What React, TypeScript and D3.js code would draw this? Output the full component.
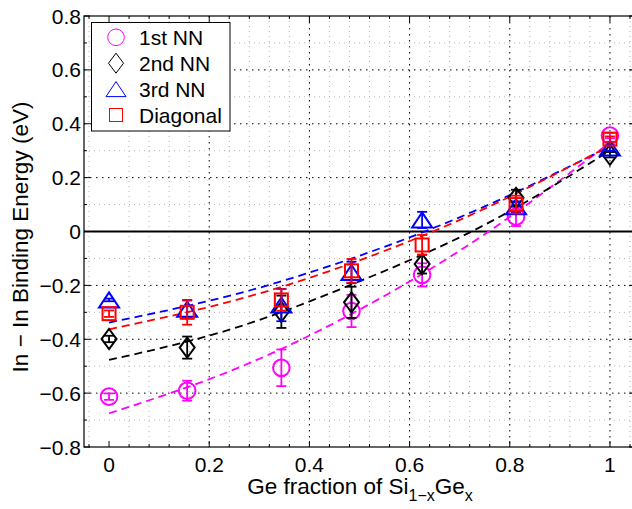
import React from 'react'
import * as d3 from 'd3'

// Ge fraction of each calculated alloy
const geFraction = [0, 0.156, 0.344, 0.484, 0.625, 0.8125, 1]

// binding energies (eV) and error bars, one array per neighbour
const nn1st = [-0.613, -0.591, -0.506, -0.295, -0.161, 0.055, 0.356]
const nn1stErr = [0.012, 0.037, 0.068, 0.06, 0.043, 0.035, 0.01]
const nn2nd = [-0.399, -0.431, -0.298, -0.263, -0.121, 0.125, 0.285]
const nn2ndErr = [0.012, 0.041, 0.06, 0.058, 0.035, 0.03, 0.01]
const nn3rd = [-0.254, -0.289, -0.273, -0.152, 0.043, 0.092, 0.31]
const nn3rdErr = [0.005, 0.033, 0.06, 0.04, 0.03, 0.02, 0.01]
const diagonal = [-0.305, -0.3, -0.254, -0.146, -0.05, 0.1, 0.343]
const diagonalErr = [0.012, 0.046, 0.04, 0.044, 0.037, 0.033, 0.01]

// dashed fit curves
const fitX = [0, 0.25, 0.5, 0.75, 1]
const fit1st = [-0.675, -0.512, -0.29, -0.01, 0.33]
const fit2nd = [-0.477, -0.359, -0.185, 0.025, 0.3]
const fit3rd = [-0.338, -0.234, -0.09, 0.093, 0.316]
const fitDiag = [-0.363, -0.256, -0.107, 0.085, 0.318]

const xTicks = [0, 0.2, 0.4, 0.6, 0.8, 1]
const yTicks = [-0.8, -0.6, -0.4, -0.2, 0, 0.2, 0.4, 0.6, 0.8]
const labels = ['1st NN', '2nd NN', '3rd NN', 'Diagonal']

const W = 632
const H = 509
const font = '"Liberation Sans", Arial, Helvetica, sans-serif'

const x = d3.scaleLinear().domain([-0.05, 1.05]).range([84, 635])
const y = d3.scaleLinear().domain([-0.8, 0.8]).range([447, 16])

const series = [
  { name: labels[0], vals: nn1st, err: nn1stErr, fit: fit1st, color: '#ff00ff', shape: 'circle' },
  { name: labels[1], vals: nn2nd, err: nn2ndErr, fit: fit2nd, color: '#000000', shape: 'diamond' },
  { name: labels[2], vals: nn3rd, err: nn3rdErr, fit: fit3rd, color: '#0000ff', shape: 'triangle' },
  { name: labels[3], vals: diagonal, err: diagonalErr, fit: fitDiag, color: '#ff0000', shape: 'square' },
]

function Marker({ shape, cx, cy, color, sw }: { shape: string; cx: number; cy: number; color: string; sw: number }) {
  const p = { fill: 'none', stroke: color, strokeWidth: sw }
  if (shape === 'circle') return <circle cx={cx} cy={cy} r={8.3} {...p} />
  if (shape === 'diamond')
    return <path d={`M${cx},${cy - 10}L${cx + 7.5},${cy}L${cx},${cy + 10}L${cx - 7.5},${cy}Z`} {...p} />
  if (shape === 'triangle')
    return <path d={`M${cx},${cy - 7.5}L${cx + 10},${cy + 7.5}L${cx - 10},${cy + 7.5}Z`} {...p} />
  return <rect x={cx - 6.5} y={cy - 6.5} width={13} height={13} {...p} />
}

export default function App() {
  const line = d3
    .line<number>()
    .x((_, i) => x(fitX[i]))
    .y((d) => y(d))
    .curve(d3.curveNatural)

  const minorX = d3.range(-0.04, 1.05, 0.04).filter((v) => Math.abs(v / 0.2 - Math.round(v / 0.2)) > 0.01)
  const minorY = d3.range(-0.7, 0.8, 0.2)
  const [x0, x1] = x.range()
  const [y0, y1] = y.range()

  return (
    <svg width={W} height={H} style={{ position: 'absolute', left: 0, top: 0, background: '#fff' }} fontFamily={font}>
      <rect x={0} y={0} width={W} height={H} fill="#fff" />
      {/* minor grid */}
      {minorX.map((v) => (
        <line key={'mx' + v} x1={x(v)} x2={x(v)} y1={y1} y2={y0} stroke="#b4b4b4" strokeDasharray="1,4" />
      ))}
      {minorY.map((v) => (
        <line key={'my' + v} x1={x0} x2={x1} y1={y(v)} y2={y(v)} stroke="#b4b4b4" strokeDasharray="1,4" />
      ))}
      {/* major grid */}
      {xTicks.filter((v) => v > 0).map((v) => (
        <line key={'gx' + v} x1={x(v)} x2={x(v)} y1={y1} y2={y0} stroke="#000" strokeDasharray="1.5,4.5" />
      ))}
      {yTicks.filter((v) => v !== 0 && Math.abs(v) < 0.8).map((v) => (
        <line key={'gy' + v} x1={x0} x2={x1} y1={y(v)} y2={y(v)} stroke="#000" strokeDasharray="1.5,4.5" />
      ))}
      {/* zero line */}
      <line x1={x0} x2={x1} y1={y(0)} y2={y(0)} stroke="#000" strokeWidth={2.2} />

      {/* fits */}
      {series.map((s) => (
        <path key={'f' + s.name} d={line(s.fit) || ''} fill="none" stroke={s.color} strokeWidth={1.8} strokeDasharray="8,5" />
      ))}

      {/* error bars and markers */}
      {series.map((s) => (
        <g key={'s' + s.name}>
          {s.vals.map((v, i) => {
            const cx = x(geFraction[i])
            const top = y(v + s.err[i])
            const bot = y(v - s.err[i])
            return (
              <g key={i} stroke={s.color} strokeWidth={1.8}>
                <line x1={cx} x2={cx} y1={top} y2={bot} />
                <line x1={cx - 5} x2={cx + 5} y1={top} y2={top} />
                <line x1={cx - 5} x2={cx + 5} y1={bot} y2={bot} />
              </g>
            )
          })}
          {s.vals.map((v, i) => (
            <Marker key={'m' + i} shape={s.shape} cx={x(geFraction[i])} cy={y(v)} color={s.color} sw={2} />
          ))}
        </g>
      ))}

      {/* axes box and ticks */}
      <rect x={x0} y={y1} width={x1 - x0} height={y0 - y1} fill="none" stroke="#000" strokeWidth={1.2} />
      {xTicks.map((v) => (
        <g key={'tx' + v} stroke="#000">
          <line x1={x(v)} x2={x(v)} y1={y0} y2={y0 - 6} />
          <line x1={x(v)} x2={x(v)} y1={y1} y2={y1 + 6} />
        </g>
      ))}
      {minorX.map((v) => (
        <g key={'tmx' + v} stroke="#000">
          <line x1={x(v)} x2={x(v)} y1={y0} y2={y0 - 3} />
          <line x1={x(v)} x2={x(v)} y1={y1} y2={y1 + 3} />
        </g>
      ))}
      {yTicks.map((v) => (
        <g key={'ty' + v} stroke="#000">
          <line x1={x0} x2={x0 + 6} y1={y(v)} y2={y(v)} />
          <line x1={x1} x2={x1 - 6} y1={y(v)} y2={y(v)} />
        </g>
      ))}
      {minorY.map((v) => (
        <g key={'tmy' + v} stroke="#000">
          <line x1={x0} x2={x0 + 3} y1={y(v)} y2={y(v)} />
          <line x1={x1} x2={x1 - 3} y1={y(v)} y2={y(v)} />
        </g>
      ))}
      {xTicks.map((v) => (
        <text key={'lx' + v} x={x(v)} y={472} textAnchor="middle" fontSize={21}>
          {d3.format('~g')(v)}
        </text>
      ))}
      {yTicks.map((v) => (
        <text key={'ly' + v} x={81} y={y(v) + 7.5} textAnchor="end" fontSize={21}>
          {v === 0 ? '0' : d3.format('.1f')(v).replace('-', '\u2212')}
        </text>
      ))}

      {/* axis titles */}
      <text x={360} y={494} textAnchor="middle" fontSize={22.5}>
        Ge fraction of Si
        <tspan fontSize={16} dy={7}>1−x</tspan>
        <tspan dy={-7}>Ge</tspan>
        <tspan fontSize={16} dy={7}>x</tspan>
      </text>
      <text transform="translate(28,237) rotate(-90)" textAnchor="middle" fontSize={22.5}>
        In − In Binding Energy (eV)
      </text>

      {/* legend */}
      <rect x={91.5} y={22.5} width={138.5} height={108.5} fill="#fff" stroke="#000" strokeWidth={1} />
      {series.map((s, i) => {
        const ry = 37.3 + i * 25.9
        return (
          <g key={'lg' + s.name}>
            <Marker shape={s.shape} cx={116} cy={ry} color={s.color} sw={1} />
            <text x={139} y={ry + 7.5} fontSize={21}>
              {s.name}
            </text>
          </g>
        )
      })}
    </svg>
  )
}
